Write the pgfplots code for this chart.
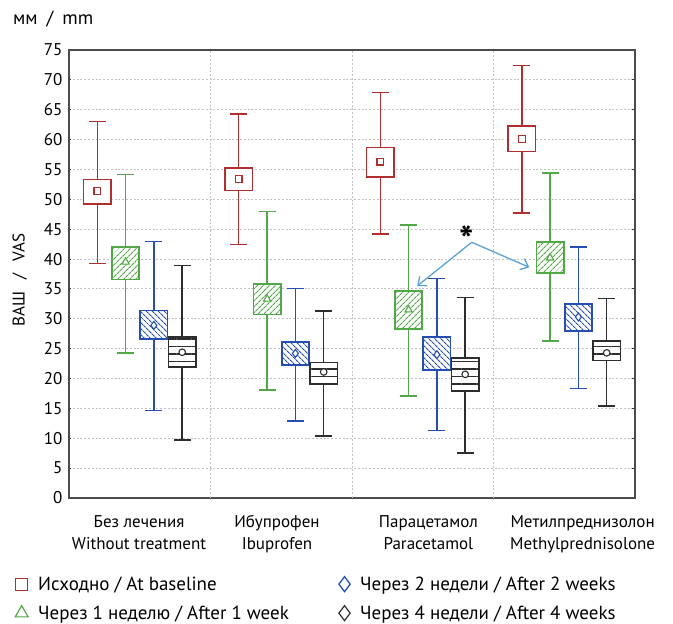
\documentclass[border=0pt]{standalone}
\usepackage{fontspec}
\setmainfont{PT Sans}
\usepackage{pgfplots}
\usepackage{pgfplotstable}
\pgfplotsset{compat=1.18}
\usetikzlibrary{patterns.meta,arrows.meta}
\definecolor{cred}{RGB}{176,46,46}
\definecolor{cgreen}{RGB}{82,168,70}
\definecolor{cblue}{RGB}{38,78,178}
\definecolor{cblack}{RGB}{45,45,45}
\definecolor{carrow}{RGB}{92,162,214}
\definecolor{cgrid}{RGB}{195,195,195}

% pos = draw position; lw/uw = whisker ends; lq/uq = box edges; mean = marker
\pgfplotstableread{
pos lw lq mean uq uw
0.2 39.3 49.2 51.4 53.3 63.0
1.2 42.4 51.5 53.4 55.2 64.3
2.2 44.2 53.7 56.3 58.7 67.9
3.2 47.7 58.0 60.1 62.3 72.4
}\tred
\pgfplotstableread{
pos lw lq mean uq uw
0.4 24.3 36.6 39.5 42.0 54.2
1.4 18.1 30.7 33.3 35.8 48.0
2.4 17.1 28.3 31.5 34.7 45.7
3.4 26.3 37.7 40.2 42.8 54.4
}\tgreen
\pgfplotstableread{
pos lw lq mean uq uw
0.6 14.6 26.6 28.9 31.4 42.9
1.6 12.9 22.3 24.2 26.1 35.1
2.6 11.3 21.4 24.0 26.9 36.7
3.6 18.3 28.0 30.3 32.5 42.0
}\tblue
\pgfplotstableread{
pos lw lq mean uq uw
0.8 9.7 21.9 24.4 26.9 38.9
1.8 10.4 19.1 21.1 22.7 31.3
2.8 7.5 17.9 20.7 23.4 33.6
3.8 15.4 23.0 24.3 26.3 33.4
}\tblack

\pgfplotsset{
  whisk/.style={only marks, mark=none,
    error bars/.cd, y dir=both, y explicit, error mark=-,
    error bar style={#1, line width=1.4pt, solid},
    error mark options={rotate=90, #1, line width=1.4pt, mark size=8.5pt, solid}},
  boxr/.style={draw=cred, line width=1.7pt, line cap=rect, line join=miter, fill=white},
  boxg/.style={draw=cgreen, line width=1.7pt, line cap=rect, line join=miter, preaction={fill=white}, pattern={Lines[angle=45,distance=4pt,line width=1.1pt]}, pattern color=cgreen},
  boxb/.style={draw=cblue, line width=1.7pt, line cap=rect, line join=miter, preaction={fill=white}, pattern={Lines[angle=-45,distance=4pt,line width=1.1pt]}, pattern color=cblue},
  boxk/.style={draw=cblack, line width=1.7pt, line cap=rect, line join=miter, preaction={fill=white}, pattern={Lines[angle=0,distance=7.5pt,line width=1.4pt]}, pattern color=cblack},
}
\begin{document}
\begin{tikzpicture}
\useasboundingbox (0,0) rectangle (673pt,624pt);
\begin{axis}[
  at={(69pt,126pt)}, anchor=south west,
  width=566pt, height=448pt, scale only axis,
  xmin=0, xmax=4, ymin=0, ymax=75,
  ytick={0,5,...,75},
  xtick={0.495,1.47,2.54,3.63},
  xticklabels={{Без лечения\\Without treatment},{Ибупрофен\\Ibuprofen},{Парацетамол\\Paracetamol},{Метилпреднизолон\\Methylprednisolone}},
  xticklabel style={align=center, font=\fontsize{17}{22}\selectfont, yshift=-14pt},
  extra x ticks={1,2,3}, extra x tick labels={},
  extra x tick style={grid=major},
  xtick style={draw=none},
  ymajorgrids,
  grid style={cgrid, line width=0.9pt, dash pattern=on 2pt off 1.8pt},
  axis line style={line width=1.3pt, black!70},
  ytick pos=both, tick align=inside, major tick length=2.5pt,
  ytick style={black!80, line width=1pt},
  yticklabel style={font=\fontsize{17}{20}\selectfont, xshift=-3pt},
  /pgf/number format/assume math mode=true,
  ylabel={ВАШ\hspace{12pt}/\hspace{12pt}VAS},
  ylabel style={at={(axis description cs:-0.087,0.487)}, anchor=center, font=\fontsize{17}{20}\selectfont},
  legend columns=2,
  legend cell align=left,
  legend style={at={(axis description cs:-0.0954,-0.1673)}, anchor=north west, draw=none, fill=none, inner sep=0pt,
    font=\fontsize{19}{22}\selectfont, row sep=7pt,
    nodes={text height=15pt, text depth=3pt, inner sep=2pt},
    /tikz/column 1/.style={column sep=8pt},
    /tikz/column 2/.style={column sep=48pt},
    /tikz/column 3/.style={column sep=8pt}},
  clip=false,
]
% legend entries (row-wise order)
\addlegendimage{only marks, mark=square, mark size=6pt, cred, line width=1.2pt}
\addlegendentry{Исходно / At baseline}
\addlegendimage{only marks, mark=diamond, mark size=7.5pt, cblue, line width=1.3pt}
\addlegendentry{Через 2 недели / After 2 weeks}
\addlegendimage{only marks, mark=triangle, mark size=7.5pt, cgreen, line width=1.2pt}
\addlegendentry{Через 1 неделю / After 1 week}
\addlegendimage{only marks, mark=diamond, mark size=7.5pt, cblack, line width=1.2pt}
\addlegendentry{Через 4 недели / After 4 weeks}

% whiskers
\addplot[whisk=cred]   table[x=pos, y=mean, y error plus expr=\thisrow{uw}-\thisrow{mean}, y error minus expr=\thisrow{mean}-\thisrow{lw}] {\tred};
\addplot[whisk=cgreen] table[x=pos, y=mean, y error plus expr=\thisrow{uw}-\thisrow{mean}, y error minus expr=\thisrow{mean}-\thisrow{lw}] {\tgreen};
\addplot[whisk=cblue]  table[x=pos, y=mean, y error plus expr=\thisrow{uw}-\thisrow{mean}, y error minus expr=\thisrow{mean}-\thisrow{lw}] {\tblue};
\addplot[whisk=cblack] table[x=pos, y=mean, y error plus expr=\thisrow{uw}-\thisrow{mean}, y error minus expr=\thisrow{mean}-\thisrow{lw}] {\tblack};

% boxes (lower to upper quartile)
\addplot[boxr] coordinates {(0.103,49.2) (0.297,49.2) (0.297,53.3) (0.103,53.3) (0.103,49.2)};
\addplot[boxg] coordinates {(0.303,36.6) (0.497,36.6) (0.497,42.0) (0.303,42.0) (0.303,36.6)};
\addplot[boxb] coordinates {(0.503,26.6) (0.697,26.6) (0.697,31.4) (0.503,31.4) (0.503,26.6)};
\addplot[boxk] coordinates {(0.703,21.9) (0.897,21.9) (0.897,26.9) (0.703,26.9) (0.703,21.9)};

\addplot[boxr] coordinates {(1.103,51.5) (1.297,51.5) (1.297,55.2) (1.103,55.2) (1.103,51.5)};
\addplot[boxg] coordinates {(1.303,30.7) (1.497,30.7) (1.497,35.8) (1.303,35.8) (1.303,30.7)};
\addplot[boxb] coordinates {(1.503,22.3) (1.697,22.3) (1.697,26.1) (1.503,26.1) (1.503,22.3)};
\addplot[boxk] coordinates {(1.703,19.1) (1.897,19.1) (1.897,22.7) (1.703,22.7) (1.703,19.1)};

\addplot[boxr] coordinates {(2.103,53.7) (2.297,53.7) (2.297,58.7) (2.103,58.7) (2.103,53.7)};
\addplot[boxg] coordinates {(2.303,28.3) (2.497,28.3) (2.497,34.7) (2.303,34.7) (2.303,28.3)};
\addplot[boxb] coordinates {(2.503,21.4) (2.697,21.4) (2.697,26.9) (2.503,26.9) (2.503,21.4)};
\addplot[boxk] coordinates {(2.703,17.9) (2.897,17.9) (2.897,23.4) (2.703,23.4) (2.703,17.9)};

\addplot[boxr] coordinates {(3.103,58.0) (3.297,58.0) (3.297,62.3) (3.103,62.3) (3.103,58.0)};
\addplot[boxg] coordinates {(3.303,37.7) (3.497,37.7) (3.497,42.8) (3.303,42.8) (3.303,37.7)};
\addplot[boxb] coordinates {(3.503,28.0) (3.697,28.0) (3.697,32.5) (3.503,32.5) (3.503,28.0)};
\addplot[boxk] coordinates {(3.703,23.0) (3.897,23.0) (3.897,26.3) (3.703,26.3) (3.703,23.0)};

% mean markers
\addplot[only marks, mark=square*, mark size=3.4pt, cred, line width=1.4pt, mark options={fill=white}] table[x=pos, y=mean] {\tred};
\addplot[only marks, mark=triangle*, mark size=4.2pt, cgreen, line width=1.1pt, mark options={fill=white}] table[x=pos, y=mean] {\tgreen};
\addplot[only marks, mark=diamond*, mark size=4pt, cblue, line width=1.1pt, mark options={fill=white}] table[x=pos, y=mean] {\tblue};
\addplot[only marks, mark=*, mark size=3.3pt, cblack, line width=1.1pt, mark options={fill=white}] table[x=pos, y=mean] {\tblack};

% annotation
\node[font=\fontsize{38}{38}\selectfont\bfseries, inner sep=0pt] at (axis cs:2.811,43.2) {*};
\draw[carrow, line width=1.3pt, -{Straight Barb[length=7pt,width=12pt]}] (axis cs:2.846,42.81) -- (axis cs:2.461,35.49);
\draw[carrow, line width=1.3pt, -{Straight Barb[length=7pt,width=12pt]}] (axis cs:2.846,42.81) -- (axis cs:3.253,38.62);
\end{axis}
\node[anchor=base west, font=\fontsize{19}{22}\selectfont, inner sep=0pt] at (13pt,599pt) {мм\hspace{9pt}/\hspace{9pt}mm};
\end{tikzpicture}
\end{document}
